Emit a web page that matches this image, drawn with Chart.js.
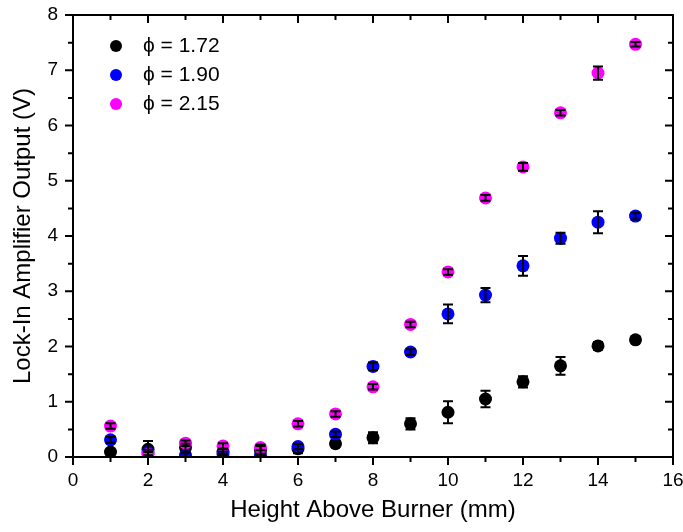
<!DOCTYPE html>
<html>
<head>
<meta charset="utf-8">
<script src="https://cdn.jsdelivr.net/npm/chart.js@4"></script>
<style>
  html, body { margin: 0; padding: 0; background: #fff; }
  #wrap { width: 683px; height: 532px; }
</style>
</head>
<body>
<div id="wrap"><canvas id="hab"></canvas></div>
<script>
// Height above burner (mm)
const heights = [1, 2, 3, 4, 5, 6, 7, 8, 9, 10, 11, 12, 13, 14, 15];

// Lock-in output (V) and standard deviations for each equivalence ratio
const phi172 = [0.09, 0.14, 0.17, 0.10, 0.12, 0.15, 0.24, 0.35, 0.60, 0.81, 1.05, 1.36, 1.65, 2.01, 2.12];
const err172 = [0.05, 0.15, 0.07, 0.05, 0.08, 0.08, 0.05, 0.10, 0.10, 0.20, 0.15, 0.10, 0.16, 0.07, 0.05];
const phi190 = [0.31, 0.08, 0.03, 0.06, 0.03, 0.19, 0.41, 1.64, 1.90, 2.59, 2.93, 3.46, 3.96, 4.25, 4.36];
const err190 = [0.05, 0.05, 0.04, 0.04, 0.03, 0.05, 0.05, 0.07, 0.05, 0.17, 0.13, 0.18, 0.10, 0.20, 0.06];
const phi215 = [0.56, 0.05, 0.25, 0.20, 0.17, 0.60, 0.78, 1.27, 2.40, 3.35, 4.69, 5.25, 6.23, 6.95, 7.47];
const err215 = [0.05, 0.04, 0.05, 0.05, 0.05, 0.05, 0.05, 0.05, 0.05, 0.05, 0.05, 0.07, 0.05, 0.12, 0.04];

const seriesLabels = ['\u03D5 = 1.72', '\u03D5 = 1.90', '\u03D5 = 2.15'];
const seriesColors = ['#000000', '#0000ff', '#ff00ff'];

const FONT = "'Liberation Sans', Arial, sans-serif";

function pts(ys, errs) {
  return heights.map((x, i) => ({ x: x, y: ys[i], e: errs[i] }));
}

// error bars with caps, drawn on top of all markers
const errorBars = {
  id: 'errorBars',
  afterDatasetsDraw(chart) {
    const ctx = chart.ctx;
    const ys = chart.scales.y;
    ctx.save();
    ctx.strokeStyle = '#000';
    ctx.lineWidth = 2;
    chart.data.datasets.forEach((ds, di) => {
      const meta = chart.getDatasetMeta(di);
      meta.data.forEach((pt, i) => {
        const d = ds.data[i];
        const top = ys.getPixelForValue(d.y + d.e);
        const bot = ys.getPixelForValue(Math.max(d.y - d.e, 0));
        const cx = pt.x;
        ctx.beginPath();
        ctx.moveTo(cx, top); ctx.lineTo(cx, bot);
        ctx.moveTo(cx - 5, top); ctx.lineTo(cx + 5, top);
        ctx.moveTo(cx - 5, bot); ctx.lineTo(cx + 5, bot);
        ctx.stroke();
      });
    });
    ctx.restore();
  }
};

// frame with major/minor ticks: outward on left/bottom, inward on top/right
const frameTicks = {
  id: 'frameTicks',
  afterDraw(chart) {
    const ctx = chart.ctx;
    const a = chart.chartArea;
    const xs = chart.scales.x, ys = chart.scales.y;
    ctx.save();
    ctx.strokeStyle = '#000';
    ctx.lineWidth = 2;
    ctx.strokeRect(a.left, a.top, a.right - a.left, a.bottom - a.top);
    ctx.beginPath();
    for (let v = xs.min; v <= xs.max; v += 1) {
      const px = xs.getPixelForValue(v);
      const len = v % 2 === 0 ? 8 : 5;
      ctx.moveTo(px, a.bottom); ctx.lineTo(px, a.bottom + len);
      ctx.moveTo(px, a.top); ctx.lineTo(px, a.top + len);
    }
    for (let v = ys.min; v <= ys.max; v += 0.5) {
      const py = ys.getPixelForValue(v);
      const len = v % 1 === 0 ? 8 : 5;
      ctx.moveTo(a.left, py); ctx.lineTo(a.left - len, py);
      ctx.moveTo(a.right, py); ctx.lineTo(a.right - len, py);
    }
    ctx.stroke();
    ctx.restore();
  }
};

// legend inside the plot, upper left
const insideLegend = {
  id: 'insideLegend',
  afterDraw(chart) {
    const ctx = chart.ctx;
    ctx.save();
    ctx.font = '21px ' + FONT;
    ctx.textBaseline = 'middle';
    seriesLabels.forEach((lab, i) => {
      const y = 46 + i * 29;
      ctx.fillStyle = seriesColors[i];
      ctx.beginPath();
      ctx.arc(116, y, 6, 0, Math.PI * 2);
      ctx.fill();
      ctx.fillStyle = '#000';
      ctx.fillText(lab, 143, y);
    });
    ctx.restore();
  }
};

const orders = [3, 2, 1];
const datasets = [[phi172, err172], [phi190, err190], [phi215, err215]].map((s, i) => ({
  label: seriesLabels[i],
  data: pts(s[0], s[1]),
  backgroundColor: seriesColors[i],
  borderColor: seriesColors[i],
  pointRadius: 6.5,
  pointBorderWidth: 0,
  order: orders[i]
}));

new Chart(document.getElementById('hab'), {
  type: 'scatter',
  data: { datasets: datasets },
  options: {
    responsive: true,
    maintainAspectRatio: false,
    animation: false,
    layout: { padding: { top: 15, right: 10, left: 0, bottom: 0 } },
    plugins: {
      legend: { display: false },
      tooltip: { enabled: false }
    },
    scales: {
      x: {
        type: 'linear',
        min: 0, max: 16,
        grid: { display: false, drawTicks: false },
        border: { display: false },
        ticks: { stepSize: 2, padding: 12, color: '#000', font: { family: FONT, size: 19 } },
        title: { display: true, text: 'Height Above Burner (mm)', color: '#000',
                 font: { family: FONT, size: 24 }, padding: { top: 4, bottom: 7 } },
        afterFit(s) { s.height = 75; s.paddingLeft = 0; s.paddingRight = 0; }
      },
      y: {
        type: 'linear',
        min: 0, max: 8,
        grid: { display: false, drawTicks: false },
        border: { display: false },
        ticks: { stepSize: 1, padding: 15, color: '#000', font: { family: FONT, size: 19 } },
        title: { display: true, text: 'Lock-In Amplifier Output (V)', color: '#000',
                 font: { family: FONT, size: 24 }, padding: { top: 9, bottom: 4 } },
        afterFit(s) { s.width = 73; s.paddingTop = 0; s.paddingBottom = 0; }
      }
    }
  },
  plugins: [errorBars, frameTicks, insideLegend]
});
</script>
</body>
</html>
